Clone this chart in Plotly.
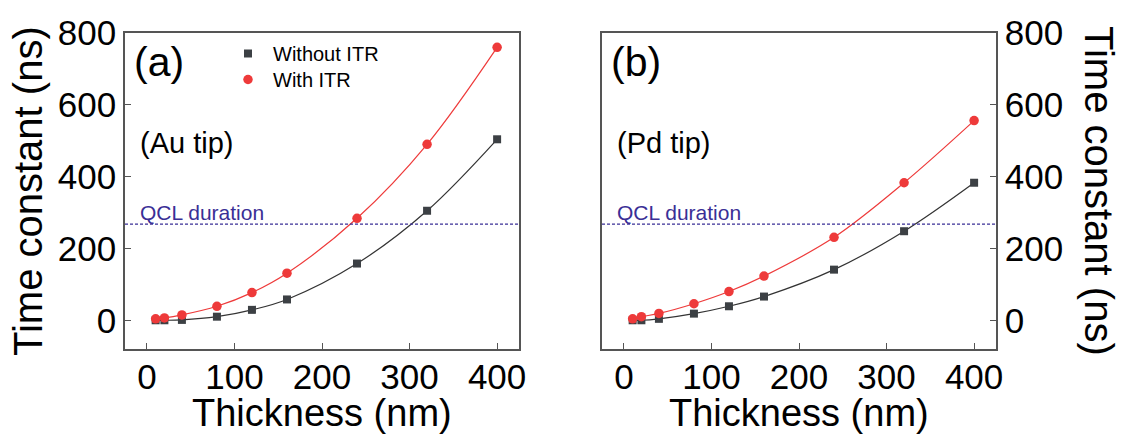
import plotly.graph_objects as go

# ---- data ----
thickness = [10, 20, 40, 80, 120, 160, 240, 320, 400]
au_without_itr = [0, 0, 1, 10, 29, 58, 158, 305, 504]
au_with_itr = [4, 6.5, 15, 39, 77, 131, 284, 490, 760]
pd_without_itr = [0, 0, 4, 18.5, 39, 66, 141, 248, 383]
pd_with_itr = [4, 10, 19, 46, 80, 123, 231, 383, 556]
qcl_duration = 268
x_ticks = [0, 100, 200, 300, 400]
y_ticks = [0, 200, 400, 600, 800]

FONT = "Liberation Sans, Arial, Helvetica, sans-serif"
BLACK = "#3c4044"
RED = "#ee3a3a"
NAVY = "#3a2f96"
FRAME = "#555555"

fig = go.Figure()

panels = [
    ("x", "y", au_without_itr, au_with_itr, True),
    ("x2", "y2", pd_without_itr, pd_with_itr, False),
]
for xa, ya, blk, red, legend in panels:
    fig.add_trace(go.Scatter(x=thickness, y=blk, mode="lines", line=dict(color="#333333", width=1.2, shape="spline"),
                             xaxis=xa, yaxis=ya, showlegend=False, hoverinfo="skip"))
    fig.add_trace(go.Scatter(x=thickness, y=red, mode="lines", line=dict(color=RED, width=1.2, shape="spline"),
                             xaxis=xa, yaxis=ya, showlegend=False, hoverinfo="skip"))
    fig.add_trace(go.Scatter(x=thickness, y=blk, mode="markers", name="Without ITR",
                             marker=dict(symbol="square", size=8, color=BLACK),
                             xaxis=xa, yaxis=ya, showlegend=legend, legend="legend"))
    fig.add_trace(go.Scatter(x=thickness, y=red, mode="markers", name="With ITR",
                             marker=dict(symbol="circle", size=9.5, color=RED),
                             xaxis=xa, yaxis=ya, showlegend=legend, legend="legend2"))

axis_common = dict(showline=True, mirror=True, linecolor=FRAME, linewidth=1.5,
                   showgrid=False, zeroline=False, ticks="inside", ticklen=6,
                   tickcolor=FRAME, tickwidth=1.3,
                   tickfont=dict(family=FONT, size=35, color="black"))

legend_common = dict(xanchor="left", yanchor="top", bgcolor="rgba(0,0,0,0)",
                     font=dict(family=FONT, size=20, color="black"), itemwidth=40)

d1 = 394 / 871
d2 = (602 - 125) / 871
fig.update_layout(
    width=1121, height=434,
    margin=dict(l=125, r=125, t=33, b=85),
    paper_bgcolor="white", plot_bgcolor="white",
    font=dict(family=FONT, color="black"),
    xaxis=dict(domain=[0, d1], range=[-25, 425], tickvals=x_ticks, anchor="y", ticklabelstandoff=-4, **axis_common),
    yaxis=dict(domain=[0, 1], range=[-80, 800], tickvals=y_ticks, anchor="x", **axis_common),
    xaxis2=dict(domain=[d2, 1], range=[-25, 425], tickvals=x_ticks, anchor="y2", ticklabelstandoff=-4, **axis_common),
    yaxis2=dict(domain=[0, 1], range=[-80, 800], tickvals=y_ticks, anchor="x2", side="right", **axis_common),
    legend=dict(x=(223 - 125) / 871, y=(349 - 34) / 316, **legend_common),
    legend2=dict(x=(223 - 125) / 871, y=(349 - 60) / 316, **legend_common),
    showlegend=True,
)

# QCL duration lines and labels
for xa, ya in [("x", "y"), ("x2", "y2")]:
    fig.add_shape(type="line", xref=f"{xa} domain", yref=ya, x0=0, x1=1, y0=qcl_duration, y1=qcl_duration,
                  line=dict(color=NAVY, width=1.3, dash="3px,2px"))
    fig.add_annotation(xref=f"{xa} domain", yref=ya, x=0.033, y=qcl_duration, xanchor="left", yanchor="bottom",
                       text="QCL duration", showarrow=False, yshift=-2,
                       font=dict(family=FONT, size=21, color=NAVY))

# panel labels
fig.add_annotation(xref="x domain", yref="y domain", x=0.018, y=(349 - 62) / 316, xanchor="left", yanchor="middle",
                   text="(a)", showarrow=False, font=dict(family=FONT, size=41, color="black"))
fig.add_annotation(xref="x2 domain", yref="y2 domain", x=0.018, y=(349 - 62) / 316, xanchor="left", yanchor="middle",
                   text="(b)", showarrow=False, font=dict(family=FONT, size=41, color="black"))
fig.add_annotation(xref="x domain", yref="y domain", x=0.033, y=(349 - 143) / 316, xanchor="left", yanchor="middle",
                   text="(Au tip)", showarrow=False, font=dict(family=FONT, size=29, color="black"))
fig.add_annotation(xref="x2 domain", yref="y2 domain", x=0.033, y=(349 - 143) / 316, xanchor="left", yanchor="middle",
                   text="(Pd tip)", showarrow=False, font=dict(family=FONT, size=29, color="black"))

# axis titles
fig.add_annotation(xref="paper", yref="paper", x=(28 - 125) / 871, y=0.5, xanchor="center", yanchor="middle",
                   text="Time constant (ns)", textangle=-90, showarrow=False,
                   font=dict(family=FONT, size=40, color="black"))
fig.add_annotation(xref="paper", yref="paper", x=(1099 - 125) / 871, y=0.5, xanchor="center", yanchor="middle",
                   text="Time constant (ns)", textangle=90, showarrow=False,
                   font=dict(family=FONT, size=40, color="black"))
for xa in ["x", "x2"]:
    fig.add_annotation(xref=f"{xa} domain", yref="paper", x=0.5, y=-64 / 316, xanchor="center", yanchor="middle",
                       text="Thickness (nm)", showarrow=False,
                       font=dict(family=FONT, size=38, color="black"))

fig.write_html("out.html", config={"displayModeBar": False},
               post_script="document.body.style.margin='0';document.body.style.overflow='hidden';")
